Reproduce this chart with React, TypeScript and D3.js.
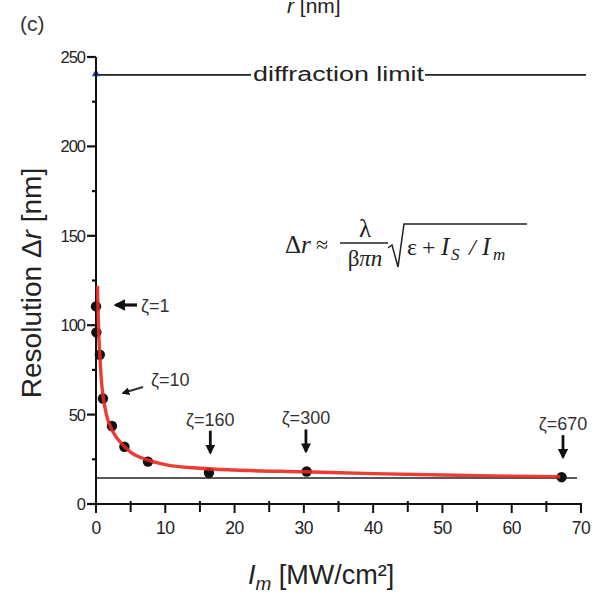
import React from "react";
import * as d3 from "d3";

const pointIm = [0.0, 0.05, 0.55, 1.0, 2.3, 4.1, 7.5, 16.3, 30.4, 67.2];
const pointDr = [110.5, 96, 83.5, 59, 43.6, 32, 23.7, 17.5, 18.2, 15];

const curveIm = [0.2, 0.3, 0.4, 0.6, 0.8, 1.0, 1.5, 2, 3, 4, 5, 7.5, 10, 15, 20, 30, 40, 50, 60, 67];
const curveDr = [122, 108, 95, 80, 68, 61, 50, 44, 37, 32.5, 29, 24.5, 22, 20, 19, 18, 17, 16.2, 15.6, 15.2];

const diffractionLimit = 240;
const resolutionFloor = 14.6;

const xTicks = [0, 10, 20, 30, 40, 50, 60, 70];
const xMinor = [5, 15, 25, 35, 45, 55, 65];
const yTicks = [0, 50, 100, 150, 200, 250];
const yMinor = [25, 75, 125, 175, 225];

const zetaLabels = ["ζ=160", "ζ=300", "ζ=670"];
const zetaIm = [16.5, 30.3, 67.4];
const zetaDr = [17.5, 18.2, 15];

export default function App() {
  const W = 595, H = 595;
  const x = d3.scaleLinear().domain([0, 70]).range([96, 581]);
  const y = d3.scaleLinear().domain([0, 250]).range([504, 57]);
  const line = d3
    .line<number>()
    .x((_, i) => x(curveIm[i]))
    .y((d) => y(d))
    .curve(d3.curveMonotoneX);
  const sans = "Liberation Sans, Arial, sans-serif";
  const serif = "Liberation Serif, Times New Roman, serif";

  return (
    <svg width={W} height={H} style={{ position: "absolute", left: 0, top: 0 }}>
      <defs>
        <marker id="ah" viewBox="0 0 10 10" refX="8" refY="5" markerWidth="3.6" markerHeight="3.6" orient="auto-start-reverse">
          <path d="M0,0 L10,5 L0,10 z" fill="#111" />
        </marker>
      </defs>
      <rect width={W} height={H} fill="#fff" />
      {/* top labels */}
      <text x={20} y={31} fontFamily={sans} fontSize={21} fill="#333">(c)</text>
      <text x={287} y={13} fontFamily={sans} fontSize={21} fill="#222">
        <tspan fontStyle="italic">r</tspan> [nm]
      </text>

      {/* diffraction limit */}
      <line x1={x(0)} x2={251} y1={y(diffractionLimit)} y2={y(diffractionLimit)} stroke="#222" strokeWidth={1.6} />
      <line x1={425} x2={586} y1={y(diffractionLimit)} y2={y(diffractionLimit)} stroke="#222" strokeWidth={1.6} />
      <text x={253} y={81} textLength={171} lengthAdjust="spacingAndGlyphs" fontFamily={sans} fontSize={20} fill="#222">
        diffraction limit
      </text>
      <path d={d3.symbol(d3.symbolTriangle, 30)() as string} transform={`translate(${x(0)},${y(diffractionLimit) - 1})`} fill="#2a3f9a" />

      {/* floor line */}
      <line x1={x(0)} x2={577} y1={y(resolutionFloor)} y2={y(resolutionFloor)} stroke="#222" strokeWidth={1.5} />

      {/* axes */}
      <line x1={x(0)} x2={x(0)} y1={y(0) + 4} y2={y(250)} stroke="#111" strokeWidth={2} />
      <line x1={x(0) - 8} x2={x(70) + 1} y1={y(0)} y2={y(0)} stroke="#111" strokeWidth={2} />
      {yTicks.map((t) => (
        <g key={"yt" + t}>
          <line x1={x(0) - 9} x2={x(0)} y1={y(t)} y2={y(t)} stroke="#111" strokeWidth={2.2} />
          <text x={x(0) - 11} y={y(t) + 6} textAnchor="end" fontFamily={sans} fontSize={16.5} letterSpacing={-1} fill="#222">
            {t}
          </text>
        </g>
      ))}
      {yMinor.map((t) => (
        <line key={"ym" + t} x1={x(0) - 4} x2={x(0)} y1={y(t)} y2={y(t)} stroke="#111" strokeWidth={2.2} />
      ))}
      {xTicks.map((t) => (
        <g key={"xt" + t}>
          <line x1={x(t)} x2={x(t)} y1={y(0)} y2={y(0) + 9} stroke="#111" strokeWidth={2} />
          <text x={x(t)} y={y(0) + 30} textAnchor="middle" fontFamily={sans} fontSize={17.5} letterSpacing={-0.5} fill="#222">
            {t}
          </text>
        </g>
      ))}
      {xMinor.map((t) => (
        <line key={"xm" + t} x1={x(t)} x2={x(t)} y1={y(0) - 3} y2={y(0) + 8} stroke="#111" strokeWidth={2} />
      ))}

      {/* axis titles */}
      <text x={248} y={584} fontFamily={sans} fontSize={27} fill="#222">
        <tspan fontStyle="italic">I</tspan>
        <tspan fontStyle="italic" fontSize={19} dy={6}>m</tspan>
        <tspan dy={-6}> [MW/cm²]</tspan>
      </text>
      <text transform="translate(41,283) rotate(-90)" textAnchor="middle" fontFamily={sans} fontSize={28} fill="#222">
        Resolution Δ<tspan fontStyle="italic">r</tspan> [nm]
      </text>

      {/* points */}
      {pointIm.map((v, i) => (
        <circle key={"p" + i} cx={x(v)} cy={y(pointDr[i])} r={5.2} fill="#111" />
      ))}

      {/* fit curve */}
      <path d={line(curveDr) as string} fill="none" stroke="#e8291f" strokeOpacity={0.9} strokeWidth={3.4} />

      {/* zeta annotations */}
      <line x1={137} y1={305} x2={116} y2={305} stroke="#111" strokeWidth={3.2} markerEnd="url(#ah)" />
      <text x={141} y={312} fontFamily={sans} fontSize={18} fill="#333">ζ=1</text>
      <line x1={143} y1={387} x2={123} y2={393} stroke="#333" strokeWidth={2.2} markerEnd="url(#ah)" />
      <text x={151} y={386} fontFamily={sans} fontSize={18} fill="#333">ζ=10</text>
      {zetaLabels.map((lab, i) => (
        <g key={lab}>
          <text x={x(zetaIm[i])} y={y(zetaDr[i]) - 47} textAnchor="middle" fontFamily={sans} fontSize={18} fill="#333">
            {lab}
          </text>
          <line x1={x(zetaIm[i])} x2={x(zetaIm[i])} y1={y(zetaDr[i]) - 42} y2={y(zetaDr[i]) - 20} stroke="#111" strokeWidth={2.8} markerEnd="url(#ah)" />
        </g>
      ))}

      {/* formula */}
      <g fontFamily={serif} fill="#222">
        <text x={285} y={253} fontSize={25}>Δ</text>
        <text x={301} y={253} fontSize={25} fontStyle="italic">r</text>
        <text x={316} y={252} fontSize={22}>≈</text>
        <text x={365} y={237} fontSize={25} textAnchor="middle">λ</text>
        <line x1={340} x2={388} y1={243} y2={243} stroke="#222" strokeWidth={1.4} />
        <text x={365} y={266} fontSize={23} textAnchor="middle">
          β<tspan fontStyle="italic">πn</tspan>
        </text>
        <path d="M388,248 L392,245 L398,267 L404,224 L527,224" fill="none" stroke="#222" strokeWidth={1.5} />
        <text x={407} y={255} fontSize={24}>ε</text>
        <text x={422} y={255} fontSize={24}>+</text>
        <text x={441} y={255} fontSize={25} fontStyle="italic">I</text>
        <text x={451} y={260} fontSize={17} fontStyle="italic">S</text>
        <text x={469} y={255} fontSize={24} fontStyle="italic">/</text>
        <text x={482} y={255} fontSize={25} fontStyle="italic">I</text>
        <text x={493} y={260} fontSize={17} fontStyle="italic">m</text>
      </g>
    </svg>
  );
}
